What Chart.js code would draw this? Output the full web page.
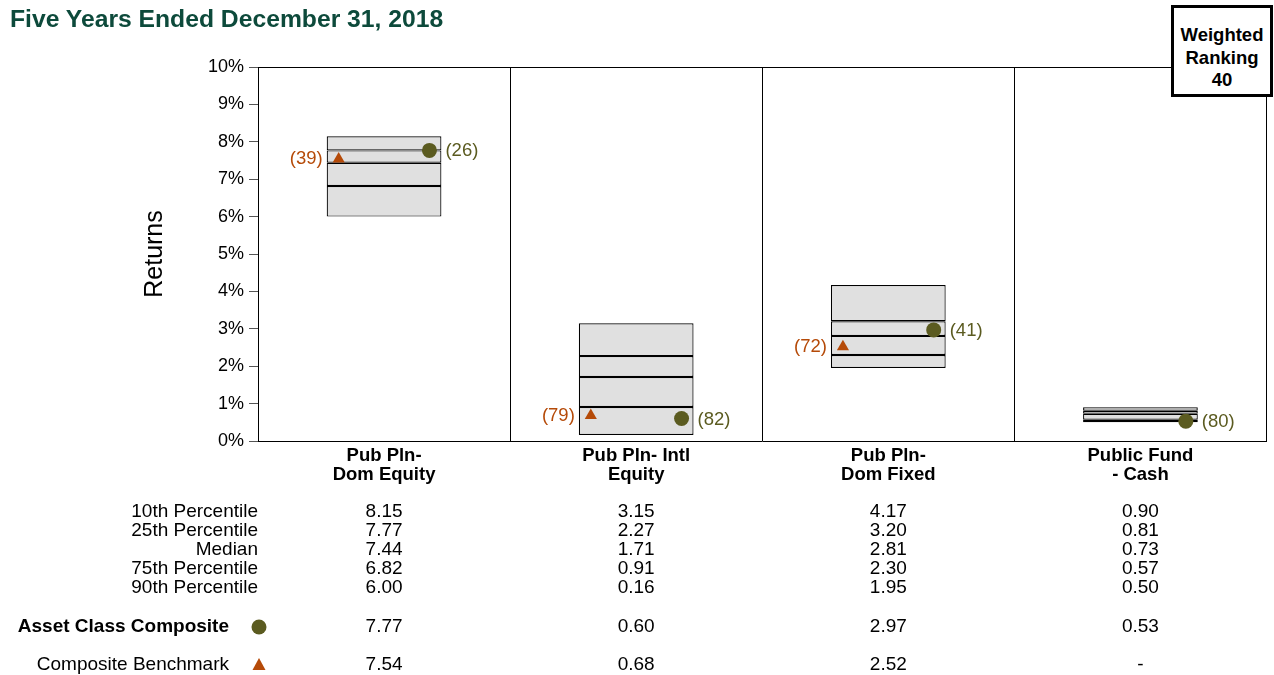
<!DOCTYPE html>
<html><head><meta charset="utf-8">
<script src="https://cdn.jsdelivr.net/npm/chart.js@4/dist/chart.umd.min.js"></script>
<style>
html,body{margin:0;padding:0;background:#fff;}
body{width:1274px;height:675px;position:relative;overflow:hidden;font-family:"Liberation Sans",Arial,Helvetica,sans-serif;}
#title{position:absolute;left:10px;top:5px;font-size:24.7px;line-height:28px;font-weight:bold;color:#0d4a3b;white-space:nowrap;}
#rank{position:absolute;left:1171px;top:5px;border:3px solid #000;background:#fff;font-size:18.5px;font-weight:bold;text-align:center;line-height:22.5px;box-sizing:border-box;width:102px;height:92px;padding-top:16px;}
canvas{position:absolute;left:0;top:0;}
</style></head>
<body>
<canvas id="c" width="1274" height="675"></canvas>
<div id="title">Five Years Ended December 31, 2018</div>
<div id="rank">Weighted<br>Ranking<br>40</div>
<script>
const categories = [["Pub Pln-","Dom Equity"],["Pub Pln- Intl","Equity"],["Pub Pln-","Dom Fixed"],["Public Fund","- Cash"]];
const p10 = [8.15, 3.15, 4.17, 0.90];
const p25 = [7.77, 2.27, 3.20, 0.81];
const median = [7.44, 1.71, 2.81, 0.73];
const p75 = [6.82, 0.91, 2.30, 0.57];
const p90 = [6.00, 0.16, 1.95, 0.50];
const composite = [7.77, 0.60, 2.97, 0.53];
const benchmark = [7.54, 0.68, 2.52, null];
const compositeRank = [26, 82, 41, 80];
const benchmarkRank = [39, 79, 72, null];
const rowLabels = ["10th Percentile","25th Percentile","Median","75th Percentile","90th Percentile"];
const yTicks = [0,1,2,3,4,5,6,7,8,9,10];

const FONT = '"Liberation Sans", Arial, Helvetica, sans-serif';
const OLIVE = '#5b5b20';
const ORANGE = '#b54a08';
const BOXFILL = '#e0e0e0';

function seg(lo, hi){ return lo.map((v,i)=>[v, hi[i]]); }
const segDefaults = {type:'bar', backgroundColor:BOXFILL, borderColor:'#000', borderWidth:1.2, borderSkipped:false,
  barPercentage:0.455, categoryPercentage:1, grouped:false, xAxisID:'x', yAxisID:'y', order:2};

const pointLabels = {
  id:'pointLabels',
  afterDatasetsDraw(chart){
    const ctx = chart.ctx;
    ctx.save();
    ctx.font = '18.5px ' + FONT;
    ctx.textBaseline = 'middle';
    const cm = chart.getDatasetMeta(4), bm = chart.getDatasetMeta(5);
    cm.data.forEach((el,i)=>{
      if (compositeRank[i] == null || composite[i] == null) return;
      ctx.fillStyle = OLIVE; ctx.textAlign='left';
      ctx.fillText('(' + compositeRank[i] + ')', el.x + 16, el.y + 1);
    });
    bm.data.forEach((el,i)=>{
      if (benchmarkRank[i] == null || benchmark[i] == null) return;
      ctx.fillStyle = ORANGE; ctx.textAlign='right';
      ctx.fillText('(' + benchmarkRank[i] + ')', el.x - 16, el.y);
    });
    const a = chart.chartArea;
    ctx.strokeStyle = '#000'; ctx.lineWidth = 1;
    ctx.beginPath(); ctx.moveTo(a.left, a.top + 0.5); ctx.lineTo(a.right, a.top + 0.5); ctx.stroke();
    ctx.restore();
  }
};

const tablePlugin = {
  id:'table',
  afterDraw(chart){
    const ctx = chart.ctx, xs = chart.scales.x;
    const labelRight = chart.chartArea.left;
    ctx.save();
    ctx.fillStyle = '#000';
    ctx.textBaseline = 'middle';
    ctx.font = '19px ' + FONT;
    const rows = [p10,p25,median,p75,p90];
    const rowY = [512,531,550,569,588];
    rows.forEach((arr,r)=>{
      ctx.textAlign='right';
      ctx.fillText(rowLabels[r], labelRight, rowY[r]);
      ctx.textAlign='center';
      arr.forEach((v,i)=>ctx.fillText(v.toFixed(2), xs.getPixelForValue(i), rowY[r]));
    });
    const yC = 627, yB = 665;
    ctx.font = 'bold 19px ' + FONT; ctx.textAlign='right';
    ctx.fillText('Asset Class Composite', 229, yC);
    ctx.font = '19px ' + FONT;
    ctx.fillText('Composite Benchmark', 229, yB);
    ctx.textAlign='center';
    composite.forEach((v,i)=>ctx.fillText(v==null?'-':v.toFixed(2), xs.getPixelForValue(i), yC));
    benchmark.forEach((v,i)=>ctx.fillText(v==null?'-':v.toFixed(2), xs.getPixelForValue(i), yB));
    ctx.fillStyle = OLIVE;
    ctx.beginPath(); ctx.arc(259, yC, 7.5, 0, Math.PI*2); ctx.fill();
    ctx.fillStyle = ORANGE;
    ctx.beginPath(); ctx.moveTo(259, yB-7); ctx.lineTo(265.5, yB+5); ctx.lineTo(252.5, yB+5); ctx.closePath(); ctx.fill();
    ctx.restore();
  }
};

new Chart(document.getElementById('c'), {
  data:{
    labels: categories,
    datasets:[
      Object.assign({label:'90-75', data:seg(p90,p75)}, segDefaults),
      Object.assign({label:'75-50', data:seg(p75,median)}, segDefaults),
      Object.assign({label:'50-25', data:seg(median,p25)}, segDefaults),
      Object.assign({label:'25-10', data:seg(p25,p10)}, segDefaults),
      {type:'scatter', label:'Asset Class Composite', data:composite.map((v,i)=>({x:i+0.18, y:v})),
        xAxisID:'x2', yAxisID:'y', pointStyle:'circle', pointRadius:7.5, backgroundColor:OLIVE, borderColor:OLIVE, borderWidth:0, order:0},
      {type:'scatter', label:'Composite Benchmark', data:benchmark.map((v,i)=>({x:i-0.18, y:v})),
        xAxisID:'x2', yAxisID:'y', pointStyle:'triangle', pointRadius:7, backgroundColor:ORANGE, borderColor:ORANGE, borderWidth:0, order:1}
    ]
  },
  options:{
    responsive:false, animation:false,
    layout:{padding:{top:67, right:7, left:0, bottom:0}},
    plugins:{legend:{display:false}, tooltip:{enabled:false}},
    scales:{
      x:{type:'category', offset:true,
        grid:{offset:true, color:'#000', lineWidth:1, drawTicks:false, drawOnChartArea:true},
        border:{color:'#000'},
        ticks:{font:{family:FONT, size:18.5, weight:'bold', lineHeight:1.03}, color:'#000', padding:5, maxRotation:0, autoSkip:false},
        afterFit(s){ s.height = 234; }
      },
      x2:{type:'linear', display:false, min:-0.5, max:3.5},
      y:{type:'linear', min:0, max:10,
        afterBuildTicks(s){ s.ticks = yTicks.map(v=>({value:v})); },
        ticks:{callback:v=>v+'%', font:{family:FONT, size:18}, color:'#000', padding:5},
        grid:{drawOnChartArea:false, drawTicks:true, tickLength:9, color:'#555'},
        border:{color:'#000'},
        title:{display:true, text:'Returns', font:{family:FONT, size:25, lineHeight:1.2}, color:'#000', padding:{top:140, bottom:0}},
        afterFit(s){ s.width = 258; }
      }
    }
  },
  plugins:[pointLabels, tablePlugin]
});
</script>
</body></html>
